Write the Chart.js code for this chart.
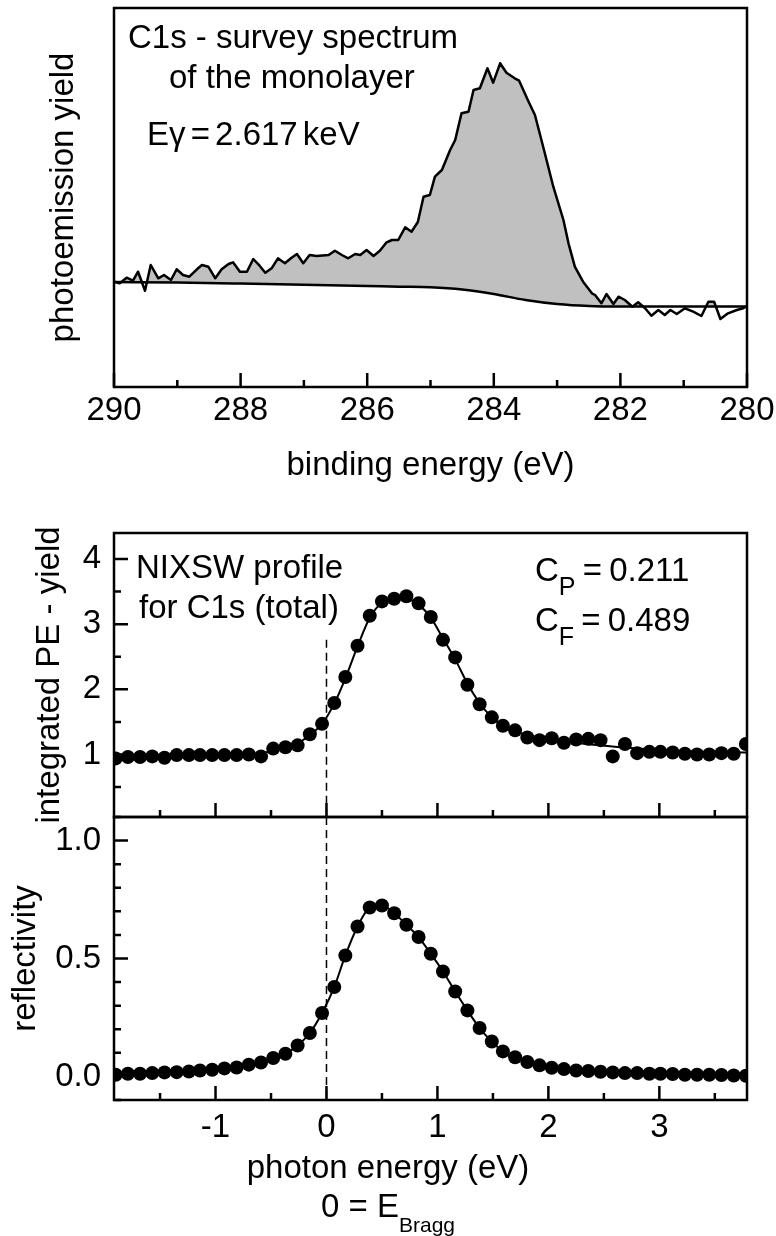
<!DOCTYPE html>
<html>
<head>
<meta charset="utf-8">
<script src="https://cdn.jsdelivr.net/npm/chart.js@4.4.1/dist/chart.umd.min.js"></script>
<style>
  body { margin: 0; background: #fff; }
  #wrap { position: relative; width: 776px; height: 1236px; overflow: hidden;
          font-family: 'Liberation Sans', Arial, sans-serif; color: #000; }
  canvas { position: absolute; left: 0; }
  .lbl { position: absolute; font-size: 33px; line-height: 33px; white-space: nowrap; }
  .sub { position: relative; top: 14px; font-size: 25px; }
  .bsub { position: relative; top: 15px; font-size: 21px; }
</style>
</head>
<body>
<div id="wrap">
  <canvas id="survey" width="776" height="500" style="top:0px"></canvas>
  <canvas id="yieldChart" width="776" height="327" style="top:500px"></canvas>
  <canvas id="reflChart" width="776" height="429" style="top:807px"></canvas>

  <div class="lbl" style="left:128px; top:20px">C1s - survey spectrum</div>
  <div class="lbl" style="left:169px; top:60px">of the monolayer</div>
  <div class="lbl" style="left:147px; top:117px; word-spacing:-4px">Eγ = 2.617 keV</div>

  <div class="lbl" style="left:136px; top:550px">NIXSW profile</div>
  <div class="lbl" style="left:139px; top:590px">for C1s (total)</div>
  <div class="lbl" style="left:535px; top:553px; word-spacing:-2px">C<span class="sub">P</span> = 0.211</div>
  <div class="lbl" style="left:535px; top:603px; word-spacing:-2px">C<span class="sub">F</span> = 0.489</div>

  <div class="lbl" style="left:188px; width:400px; text-align:center; top:1150px">photon energy (eV)</div>
  <div class="lbl" style="left:188px; width:400px; text-align:center; top:1189px">0 = E<span class="bsub">Bragg</span></div>
</div>
<script>
// survey spectrum, binding energy (eV) vs. counts (arb. units)
var specE = [290.00, 289.91, 289.80, 289.70, 289.62, 289.51, 289.42, 289.30, 289.21, 289.10,
             289.01, 288.91, 288.81, 288.69, 288.61, 288.51, 288.40, 288.30, 288.19, 288.12,
             288.01, 287.90, 287.80, 287.70, 287.61, 287.51, 287.41, 287.30, 287.20, 287.11,
             287.01, 286.91, 286.80, 286.61, 286.51, 286.40, 286.30, 286.19, 286.11, 286.01,
             285.90, 285.80, 285.70, 285.61, 285.51, 285.40, 285.30, 285.20, 285.11, 285.01,
             284.93, 284.82, 284.69, 284.61, 284.51, 284.40, 284.32, 284.22, 284.10, 284.01,
             283.90, 283.80, 283.67, 283.60, 283.45, 283.35, 283.22, 283.06, 282.90, 282.82,
             282.72, 282.59, 282.45, 282.40, 282.30, 282.22, 282.11, 282.03, 281.93, 281.81,
             281.72, 281.61, 281.51, 281.40, 281.30, 281.21, 281.11, 280.98, 280.85, 280.72,
             280.61, 280.52, 280.42, 280.30, 280.16, 280.06, 280.00];
var specY = [105.3, 103.7, 109.3, 106.3, 115.3, 96.3, 122.0, 108.7, 112.0, 107.0,
             117.7, 112.0, 110.3, 117.7, 122.0, 120.3, 108.7, 117.7, 123.0, 124.7,
             115.3, 115.3, 128.0, 121.3, 114.3, 118.7, 128.7, 123.7, 129.0, 133.0,
             123.7, 132.0, 131.0, 132.0, 136.3, 132.0, 128.7, 133.0, 132.0, 137.0,
             131.0, 136.3, 144.3, 147.0, 147.0, 159.7, 155.3, 165.0, 190.3, 192.0,
             210.3, 217.0, 237.0, 247.0, 273.7, 275.3, 297.0, 298.7, 318.7, 304.3,
             323.7, 314.3, 308.7, 306.3, 285.3, 272.0, 240.3, 200.3, 167.0, 143.7,
             120.3, 105.3, 93.7, 92.0, 83.7, 93.0, 83.0, 90.3, 87.0, 80.3,
             84.7, 78.7, 71.3, 77.0, 72.0, 77.0, 73.0, 78.7, 75.3, 71.0,
             85.3, 85.3, 68.0, 73.7, 77.0, 78.7, 81.0];

// smooth background under the peak
var bgE = [290, 289, 288, 287, 286, 285.5, 285, 284.5, 284, 283.5, 283, 282.5, 282, 281, 280];
var bgY = [105, 104.5, 103.5, 102.3, 101, 100.3, 99.7, 97.5, 93, 87, 83, 81, 80.5, 80.5, 80.5];

// NIXSW profile, photon energy relative to E_Bragg (eV)
var photonE = [-1.90, -1.79, -1.68, -1.57, -1.46, -1.35, -1.24, -1.14, -1.03, -0.92,
               -0.81, -0.70, -0.59, -0.48, -0.37, -0.26, -0.15, -0.04, 0.07, 0.17,
               0.28, 0.39, 0.50, 0.61, 0.72, 0.83, 0.94, 1.05, 1.16, 1.27,
               1.38, 1.49, 1.59, 1.70, 1.81, 1.92, 2.03, 2.14, 2.25, 2.36,
               2.47, 2.58, 2.69, 2.80, 2.91, 3.01, 3.12, 3.23, 3.34, 3.45,
               3.56, 3.67, 3.78];
var yieldY = [0.94, 0.96, 0.96, 0.97, 0.95, 0.99, 0.99, 0.99, 0.99, 0.99,
              0.99, 1.00, 0.97, 1.09, 1.11, 1.14, 1.31, 1.47, 1.79, 2.19,
              2.67, 3.13, 3.35, 3.39, 3.43, 3.32, 3.11, 2.76, 2.49, 2.07,
              1.77, 1.57, 1.44, 1.37, 1.26, 1.22, 1.25, 1.18, 1.23, 1.24,
              1.22, 0.97, 1.16, 1.02, 1.04, 1.04, 1.03, 1.01, 1.00, 1.00,
              1.02, 1.01, 1.16];
var reflY = [0.007, 0.011, 0.011, 0.014, 0.017, 0.018, 0.021, 0.025, 0.028, 0.034,
             0.038, 0.050, 0.059, 0.078, 0.096, 0.131, 0.184, 0.269, 0.379, 0.513,
             0.636, 0.716, 0.725, 0.692, 0.643, 0.591, 0.520, 0.445, 0.360, 0.280,
             0.205, 0.148, 0.106, 0.081, 0.061, 0.047, 0.037, 0.031, 0.025, 0.023,
             0.020, 0.017, 0.014, 0.014, 0.011, 0.011, 0.010, 0.007, 0.007, 0.007,
             0.006, 0.004, 0.003];

// fit through the yield data
var fitE = [-1.9, -1.2, -0.7, -0.45, -0.3, -0.15, -0.04, 0.07, 0.17, 0.28,
            0.39, 0.5, 0.61, 0.72, 0.83, 0.94, 1.05, 1.16, 1.27, 1.38,
            1.49, 1.6, 1.8, 2.0, 2.3, 2.6, 3.0, 3.4, 3.79];
var fitY = [0.97, 0.98, 1.0, 1.06, 1.13, 1.3, 1.47, 1.78, 2.17, 2.66,
            3.1, 3.33, 3.39, 3.39, 3.3, 3.1, 2.78, 2.46, 2.09, 1.79,
            1.57, 1.43, 1.3, 1.23, 1.17, 1.12, 1.07, 1.04, 1.03];

function pts(xs, ys) {
    return xs.map(function(x, i) { return {x: x, y: ys[i]}; });
}

Chart.defaults.font.family = "'Liberation Sans', Arial, sans-serif";
Chart.defaults.font.size = 33;
Chart.defaults.color = '#000';
Chart.defaults.animation = false;
Chart.defaults.plugins.legend.display = false;
Chart.defaults.plugins.tooltip.enabled = false;

// box around the plot area and inward ticks (major + minor)
const framePlugin = {
    id: 'frame',
    afterDatasetsDraw: (chart, args, opts) => {
        const ctx = chart.ctx;
        const a = chart.chartArea;
        ctx.save();
        ctx.strokeStyle = '#000';
        ctx.lineWidth = 2.5;
        ctx.beginPath();
        function ticks(scale, major, minor, horiz) {
            var k0 = Math.ceil(scale.min / minor - 1e-9);
            var k1 = Math.floor(scale.max / minor + 1e-9);
            for (var k = k0; k <= k1; k++) {
                var v = k * minor;
                var isMajor = Math.abs(v / major - Math.round(v / major)) < 1e-6;
                var len = isMajor ? 14 : 7;
                var p = scale.getPixelForValue(v);
                if (horiz) {
                    ctx.moveTo(p, a.bottom);
                    ctx.lineTo(p, a.bottom - len);
                } else {
                    ctx.moveTo(a.left, p);
                    ctx.lineTo(a.left + len, p);
                }
            }
        }
        if (opts.xMajor) ticks(chart.scales.x, opts.xMajor, opts.xMinor, true);
        if (opts.yMajor) ticks(chart.scales.y, opts.yMajor, opts.yMinor, false);
        ctx.stroke();
        ctx.strokeRect(a.left, a.top, a.right - a.left, a.bottom - a.top);
        ctx.restore();
    }
};

const noGrid = {display: false, drawTicks: false};
const noBorder = {display: false};

// fixed axis sizes, no extra room for overhanging labels
function fixW(w) {
    return (s) => { s.width = w; s.paddingTop = 0; s.paddingBottom = 0; s.paddingLeft = 0; s.paddingRight = 0; };
}
function fixH(h) {
    return (s) => { s.height = h; s.paddingTop = 0; s.paddingBottom = 0; s.paddingLeft = 0; s.paddingRight = 0; };
}

new Chart(document.getElementById('survey'), {
    type: 'line',
    data: {
        datasets: [{
            data: pts(specE, specY),
            borderColor: '#000',
            borderWidth: 2.5,
            borderJoinStyle: 'round',
            pointRadius: 0,
            clip: 0,
            fill: {target: 1, above: '#c0c0c0', below: 'rgba(0,0,0,0)'}
        }, {
            data: pts(bgE, bgY),
            borderColor: '#000',
            borderWidth: 2.5,
            pointRadius: 0,
            cubicInterpolationMode: 'monotone',
            clip: 0,
            fill: false
        }]
    },
    options: {
        responsive: false,
        layout: {padding: {top: 8, right: 29, left: 0, bottom: 0}},
        plugins: {
            filler: {drawTime: 'beforeDatasetsDraw'},
            frame: {xMajor: 2, xMinor: 1}
        },
        scales: {
            x: {
                type: 'linear', reverse: true, min: 280, max: 290,
                ticks: {stepSize: 2, padding: 4, autoSkip: false, maxRotation: 0},
                grid: noGrid, border: noBorder,
                title: {display: true, text: 'binding energy (eV)', padding: {top: 0, bottom: 14}},
                afterFit: fixH(113)
            },
            y: {
                min: 0, max: 379,
                ticks: {display: false},
                grid: noGrid, border: noBorder,
                title: {display: true, text: 'photoemission yield', padding: {top: 44, bottom: 0}},
                afterFit: fixW(114)
            }
        }
    },
    plugins: [framePlugin]
});

new Chart(document.getElementById('yieldChart'), {
    type: 'line',
    data: {
        datasets: [{
            data: pts(photonE, yieldY),
            showLine: false,
            pointRadius: 7,
            pointBackgroundColor: '#000',
            pointBorderWidth: 0,
            clip: 0
        }, {
            data: pts(fitE, fitY),
            borderColor: '#000',
            borderWidth: 2,
            pointRadius: 0,
            cubicInterpolationMode: 'monotone',
            clip: 0
        }, {
            data: [{x: 0, y: 2.76}, {x: 0, y: 0.04}],
            borderColor: '#000',
            borderWidth: 1.5,
            borderDash: [8, 5],
            pointRadius: 0,
            clip: 0
        }]
    },
    options: {
        responsive: false,
        layout: {padding: {top: 33, right: 29, left: 0, bottom: 0}},
        plugins: {frame: {xMajor: 1, xMinor: 0.5, yMajor: 1, yMinor: 0.5}},
        scales: {
            x: {
                type: 'linear', min: -1.915, max: 3.79,
                ticks: {display: false},
                grid: noGrid, border: noBorder,
                afterFit: fixH(10)
            },
            y: {
                min: 0.04, max: 4.4,
                ticks: {stepSize: 1, includeBounds: false, padding: 13},
                grid: noGrid, border: noBorder,
                title: {display: true, text: 'integrated PE - yield', padding: {top: 30, bottom: 0}},
                afterFit: fixW(114)
            }
        }
    },
    plugins: [framePlugin]
});

new Chart(document.getElementById('reflChart'), {
    type: 'line',
    data: {
        datasets: [{
            data: pts(photonE, reflY),
            borderColor: '#000',
            borderWidth: 2,
            cubicInterpolationMode: 'monotone',
            pointRadius: 7,
            pointBackgroundColor: '#000',
            pointBorderWidth: 0,
            clip: 0
        }, {
            data: [{x: 0, y: 1.1}, {x: 0, y: -0.1}],
            borderColor: '#000',
            borderWidth: 1.5,
            borderDash: [8, 5],
            pointRadius: 0,
            clip: 0
        }]
    },
    options: {
        responsive: false,
        layout: {padding: {top: 10, right: 29, left: 0, bottom: 0}},
        plugins: {frame: {xMajor: 1, xMinor: 0.5, yMajor: 0.5, yMinor: 0.1}},
        scales: {
            x: {
                type: 'linear', min: -1.915, max: 3.79,
                ticks: {stepSize: 1, includeBounds: false, padding: 8, autoSkip: false, maxRotation: 0},
                grid: noGrid, border: noBorder,
                afterFit: fixH(136)
            },
            y: {
                min: -0.1, max: 1.1,
                ticks: {stepSize: 0.5, includeBounds: false, padding: 13,
                        callback: (v) => v.toFixed(1)},
                grid: noGrid, border: noBorder,
                title: {display: true, text: 'reflectivity', padding: {top: 6, bottom: 0}},
                afterFit: fixW(114)
            }
        }
    },
    plugins: [framePlugin]
});
</script>
</body>
</html>
